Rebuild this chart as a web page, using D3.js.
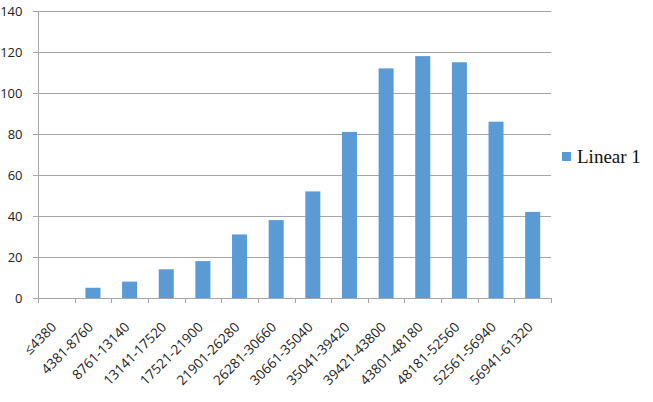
<!DOCTYPE html>
<html>
<head>
<meta charset="utf-8">
<script src="https://cdn.jsdelivr.net/npm/d3@7"></script>
<style>
body { margin: 0; background: #fff; }
svg { display: block; }
</style>
</head>
<body>
<svg></svg>
<script>
var categories = ["≤4380", "4381-8760", "8761-13140", "13141-17520", "17521-21900", "21901-26280",
    "26281-30660", "30661-35040", "35041-39420", "39421-43800", "43801-48180", "48181-52560",
    "52561-56940", "56941-61320"];
var values = [0, 5, 8, 14, 18, 31, 38, 52, 81, 112, 118, 115, 86, 42];
var yTicks = [0, 20, 40, 60, 80, 100, 120, 140];
var seriesName = "Linear 1";

var margin = {top: 11, right: 102, bottom: 104, left: 38};
var fullWidth = 653, fullHeight = 402;
var width = fullWidth - margin.left - margin.right;
var height = fullHeight - margin.top - margin.bottom;

var svg = d3.select("svg").attr("width", fullWidth).attr("height", fullHeight);
var g = svg.append("g").attr("transform", "translate(" + margin.left + "," + margin.top + ")");

var x = d3.scaleBand().domain(categories).range([0, width]).paddingInner(0.59).paddingOuter(0.295);
var y = d3.scaleLinear().domain([0, 140]).range([height, 0]);
var xPos = d3.scaleBand().domain(categories).range([0, width]);

// gridlines
g.selectAll(".grid")
    .data(yTicks)
    .enter().append("line")
    .attr("x1", -5).attr("x2", width)
    .attr("y1", function(d) { return Math.round(y(d)) + 0.5; })
    .attr("y2", function(d) { return Math.round(y(d)) + 0.5; })
    .attr("stroke", "#a6a6a6");

// y labels
g.selectAll(".ylab")
    .data(yTicks)
    .enter().append("text")
    .attr("x", -15.5)
    .attr("y", function(d) { return y(d); })
    .attr("dy", "0.35em")
    .attr("text-anchor", "end")
    .attr("font-family", "Open Sans, sans-serif")
    .attr("font-size", 13)
    .attr("fill", "#222")
    .text(function(d) { return d; });

// y axis line
g.append("line")
    .attr("x1", 0.5).attr("x2", 0.5)
    .attr("y1", y(140)).attr("y2", height)
    .attr("stroke", "#a6a6a6");

// x ticks
var tickXs = categories.map(function(c) { return xPos(c); }).concat([width]);
g.selectAll(".xtick")
    .data(tickXs)
    .enter().append("line")
    .attr("x1", function(d) { return Math.round(d) + 0.5; })
    .attr("x2", function(d) { return Math.round(d) + 0.5; })
    .attr("y1", height).attr("y2", height + 5)
    .attr("stroke", "#a6a6a6");

// bars
g.selectAll(".bar")
    .data(values)
    .enter().append("rect")
    .attr("class", "bar")
    .attr("x", function(d, i) { return x(categories[i]); })
    .attr("width", x.bandwidth())
    .attr("y", function(d) { return y(d); })
    .attr("height", function(d) { return height - y(d); })
    .attr("fill", "#5b9bd5");

// x labels
g.selectAll(".xlab")
    .data(categories)
    .enter().append("text")
    .attr("transform", function(d) {
        return "translate(" + (xPos(d) + xPos.bandwidth() / 2 + 1) + "," + (height + 30) + ") rotate(-45)";
    })
    .attr("text-anchor", "end")
    .attr("font-family", "Open Sans, sans-serif")
    .attr("font-size", 13.6)
    .attr("fill", "#222")
    .text(function(d) { return d; });

// legend
var legend = svg.append("g").attr("transform", "translate(562,157)");
legend.append("rect")
    .attr("x", 0).attr("y", -5).attr("width", 9).attr("height", 9)
    .attr("fill", "#5b9bd5");
legend.append("text")
    .attr("x", 15).attr("y", 6)
    .attr("font-family", "Liberation Serif, serif")
    .attr("font-size", 19)
    .attr("fill", "#111")
    .text(seriesName);
</script>
</body>
</html>
